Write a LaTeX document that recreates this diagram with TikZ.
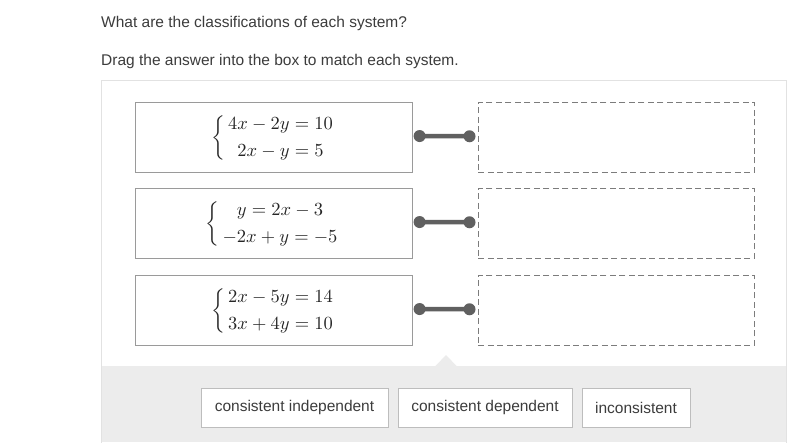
\documentclass[tikz,border=0pt]{standalone}
\usepackage{fontspec}
\setmainfont{Liberation Sans}
\definecolor{txt}{HTML}{3C3C3C}
\definecolor{mathc}{HTML}{262626}
\definecolor{panelborder}{HTML}{E2E2E2}
\definecolor{graybg}{HTML}{ECECEC}
\definecolor{eqborder}{HTML}{9A9A9A}
\definecolor{dashc}{HTML}{7C7C7C}
\definecolor{conn}{HTML}{606060}
\definecolor{btnborder}{HTML}{BDBDBD}
\tikzset{
  eqbox/.style={draw=eqborder, line width=1.1pt, fill=white, minimum width=277pt, minimum height=70pt, inner sep=0pt, text=txt, anchor=north west},
  dropbox/.style={draw=dashc, line width=1.5pt, dash pattern=on 6pt off 3.5pt, minimum width=276pt, minimum height=70pt, inner sep=0pt, anchor=north west},
  btn/.style={draw=btnborder, line width=1pt, fill=white, minimum height=39pt, inner sep=0pt, text=txt, font=\fontsize{15.5}{18}\selectfont, anchor=north west},
  dot/.style={circle, fill=conn, inner sep=0pt, minimum size=12pt},
  link/.style={conn, line width=4.5pt},
  prompt/.style={anchor=base west, inner sep=0pt, text=txt, font=\fontsize{15.5}{18}\selectfont},
  eqtext/.style={text=mathc, inner sep=0pt}
}
\newcommand{\eqsys}[3]{\scalebox{1.85}{\fontsize{10}{14.6}\selectfont$\biggl\{\begin{array}{@{\,}#1@{}}#2\\#3\end{array}$}}
\begin{document}
\begin{tikzpicture}[x=1pt,y=-1pt]
\useasboundingbox (0,0) rectangle (800,442);
\fill[white] (0,0) rectangle (800,442);
% texts
\node[prompt] (q1) at (101,27) {What are the classifications of each system?};
\node[prompt] (q2) at (101,65) {Drag the answer into the box to match each system.};
% panel
\draw[panelborder, line width=1pt, fill=white] (101.5,443) -- (101.5,80.5) -- (786.5,80.5) -- (786.5,443);
\fill[graybg] (102,366) rectangle (786,442);
\fill[graybg] (435,366.5) -- (446,355) -- (457,366.5) -- cycle;
% equation boxes
\node[eqbox] (e1) at (134.5,101.5) {};
\node[eqbox] (e2) at (134.5,187.5) {};
\node[eqbox] (e3) at (134.5,274.5) {};
\node[eqtext] (t1) at ([xshift=-1.5pt,yshift=-0.5pt]e1.center) {\eqsys{c}{4x-2y=10}{2x-y=5}};
\node[eqtext] (t2) at ([xshift=-2pt,yshift=-0.5pt]e2.center) {\eqsys{c}{y=2x-3}{-2x+y=-5}};
\node[eqtext] (t3) at ([xshift=-1.5pt,yshift=-0.5pt]e3.center) {\eqsys{l}{2x-5y=14}{3x+4y=10}};
% drop boxes
\node[dropbox] (d1) at (477.5,101.5) {};
\node[dropbox] (d2) at (477.5,187.5) {};
\node[dropbox] (d3) at (477.5,274.5) {};
% connectors
\foreach \i in {1,2,3}{
  \node[dot] (a\i) at ([xshift=7pt,yshift=1pt]e\i.east) {};
  \node[dot] (b\i) at ([xshift=-8pt,yshift=1pt]d\i.west) {};
  \draw[link] (a\i.center) -- (b\i.center);
}
% answer buttons
\node[btn, minimum width=187pt] (c1) at (200.5,387.5) {consistent independent};
\node[btn, minimum width=174pt] (c2) at (397.5,387.5) {consistent dependent};
\node[btn, minimum width=108pt] (c3) at (581.5,387.5) {inconsistent};
\end{tikzpicture}
\end{document}
